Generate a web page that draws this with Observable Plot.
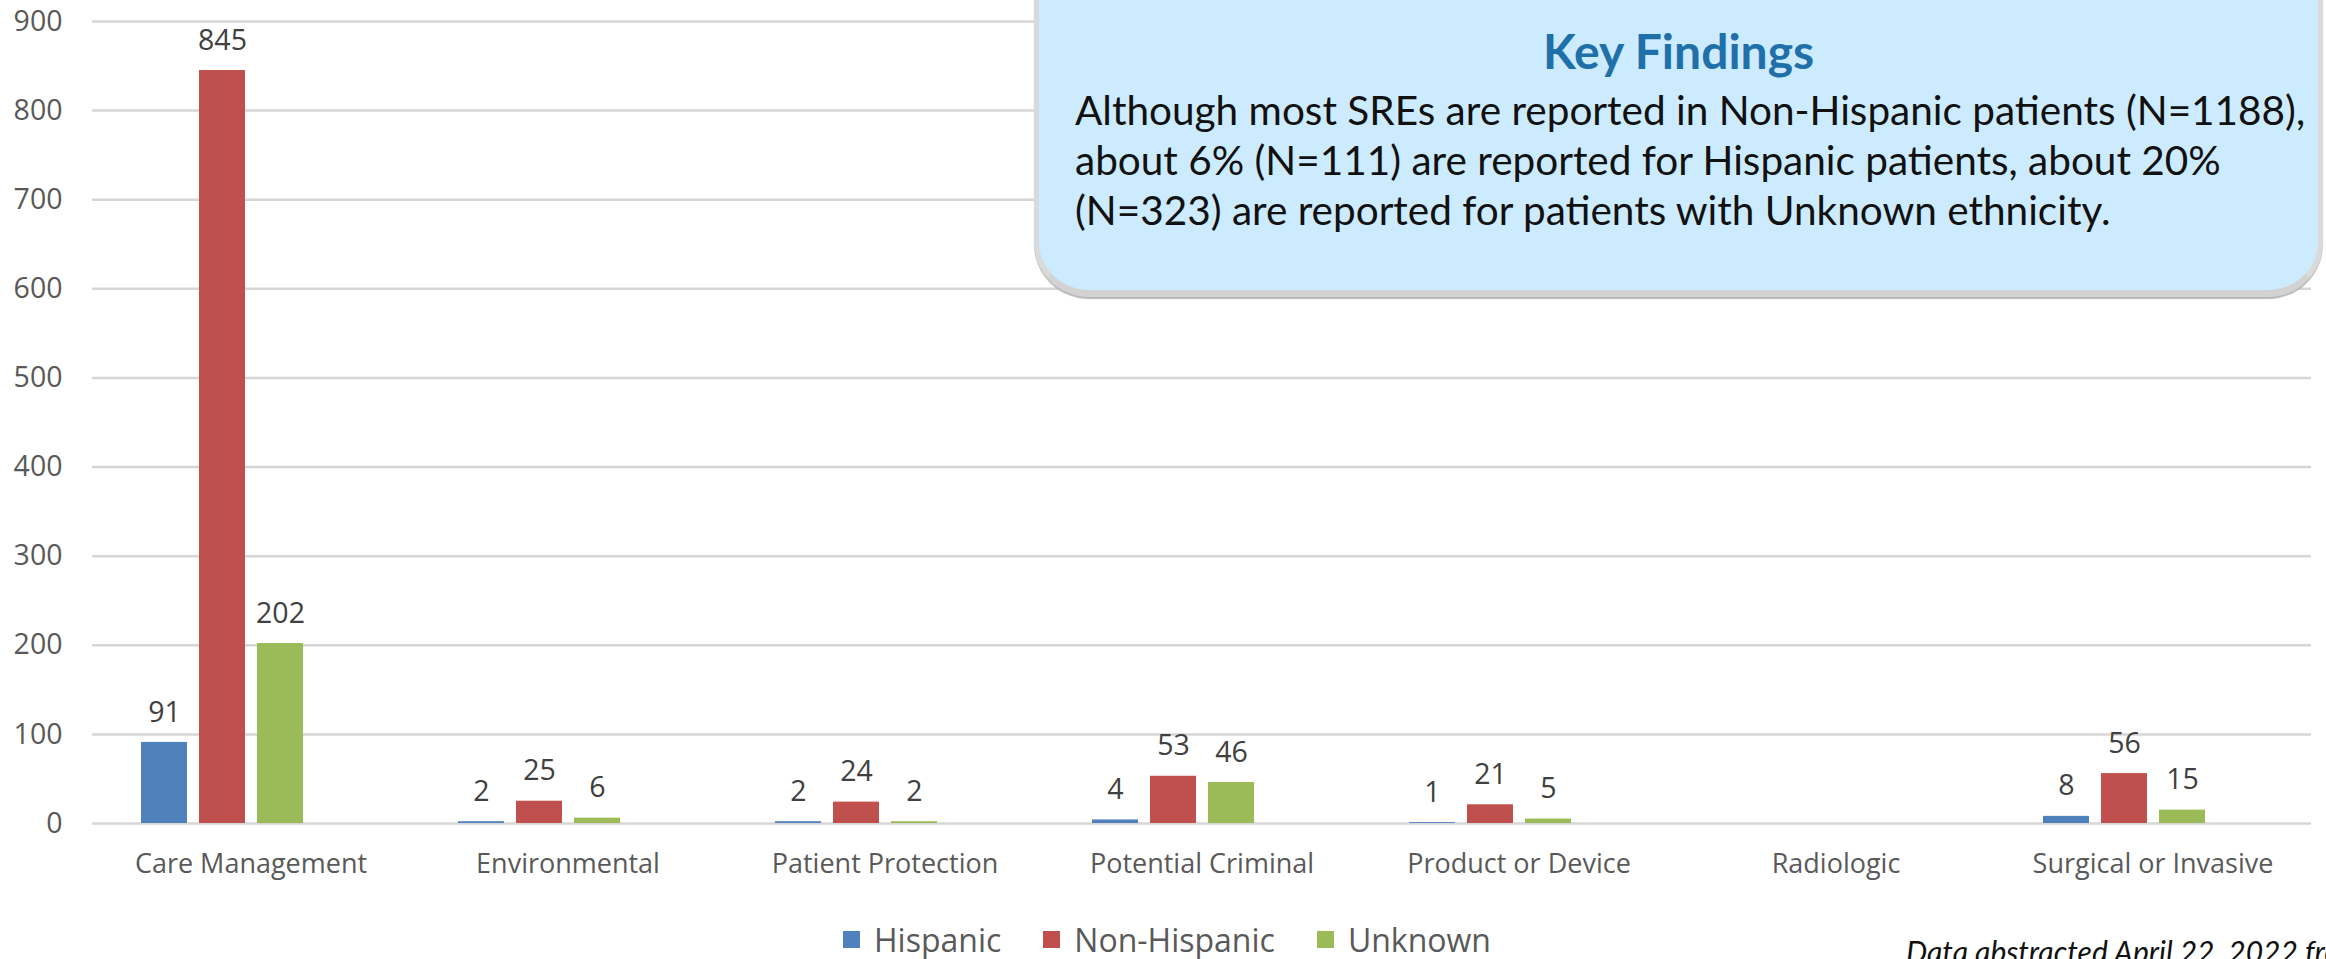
<!DOCTYPE html>
<html>
<head>
<meta charset="utf-8">
<script src="https://cdn.jsdelivr.net/npm/d3@7"></script>
<script src="https://cdn.jsdelivr.net/npm/@observablehq/plot@0.6"></script>
<style>
  html, body { margin: 0; padding: 0; background: #fff; }
  body { width: 2326px; height: 959px; overflow: hidden; position: relative; font-family: "Open Sans", sans-serif; }
  #chart { position: absolute; left: 0; top: 0; }
  #box {
    position: absolute; left: 1034px; top: -60px; width: 1289px; height: 357px;
    box-sizing: border-box; background: #cdebff;
    border: 5px solid #dadada; border-bottom: 7px solid #d2d2d2; border-radius: 55px;
    box-shadow: 0 2px 1px #b8b8b8;
  }
  #box .title { position: absolute; left: 0; right: 0; top: 76px; line-height: 60px; text-align: center;
    font-family: Lato, sans-serif; font-weight: bold; font-size: 48px; color: #1f6fa8; }
  #box .body { position: absolute; left: 36px; top: 140px; width: 1245px; line-height: 50px;
    font-family: Lato, sans-serif; font-size: 40.5px; color: #111; white-space: nowrap; }
  #legend { position: absolute; left: 843px; top: 919px; height: 40px; display: flex; align-items: center;
    font-size: 32px; color: #595959; }
  #legend .item { display: flex; align-items: center; margin-right: 42px; }
  #legend .sw { width: 17px; height: 17px; margin-right: 14px; }
  #caption { position: absolute; left: 1906px; top: 934px; font-family: Lato, sans-serif; font-style: italic;
    font-size: 30px; line-height: 34px; color: #111; white-space: nowrap; }
</style>
</head>
<body>
<div id="chart"></div>
<div id="box">
  <div class="title">Key Findings</div>
  <div class="body">Although most SREs are reported in Non-Hispanic patients (N=1188),<br>about 6% (N=111) are reported for Hispanic patients, about 20%<br>(N=323) are reported for patients with Unknown ethnicity.</div>
</div>
<div id="legend"></div>
<div id="caption">Data abstracted April 22, 2022 from</div>
<script>
const categories = ["Care Management", "Environmental", "Patient Protection", "Potential Criminal", "Product or Device", "Radiologic", "Surgical or Invasive"];
const series = ["Hispanic", "Non-Hispanic", "Unknown"];
const hispanic    = [91, 2, 2, 4, 1, null, 8];
const nonHispanic = [845, 25, 24, 53, 21, null, 56];
const unknown     = [202, 6, 2, 46, 5, null, 15];
const yTicks = [0, 100, 200, 300, 400, 500, 600, 700, 800, 900];
const colors = ["#4f81bd", "#c0504d", "#9bbb59"];

const seriesValues = [hispanic, nonHispanic, unknown];
const rows = [];
categories.forEach((c, i) => {
  series.forEach((s, j) => {
    rows.push({category: c, series: s, value: seriesValues[j][i]});
  });
});

const chart = Plot.plot({
  width: 2326,
  height: 900,
  marginTop: 21,
  marginBottom: 77,
  marginLeft: 92,
  marginRight: 15,
  style: {fontFamily: "'Open Sans', sans-serif", background: "transparent", overflow: "visible"},
  facet: {data: rows, x: "category"},
  fx: {domain: categories, padding: 0, label: null},
  x: {domain: [...series, "(empty)"], paddingInner: 0.207, paddingOuter: 0.836, axis: null},
  y: {domain: [0, 900], label: null},
  color: {domain: series, range: colors},
  marks: [
    Plot.gridY(yTicks, {stroke: "#d6d6d6", strokeWidth: 2.5, strokeOpacity: 1}),
    Plot.axisY(yTicks, {tickSize: 0, tickPadding: 30, fontSize: 28.5, color: "#595959", label: null}),
    Plot.axisFx({anchor: "bottom", tickSize: 0, tickPadding: 30, fontSize: 27, color: "#595959", label: null}),
    Plot.barY(rows, {fx: "category", x: "series", y: "value", fill: "series"}),
    Plot.text(rows, {fx: "category", x: "series", y: "value", text: d => d.value == null ? null : String(d.value), dy: -30, fontSize: 28.5, fill: "#404040"})
  ]
});
document.getElementById("chart").appendChild(chart);

const legend = document.getElementById("legend");
series.forEach((s, i) => {
  const item = document.createElement("div");
  item.className = "item";
  const sw = document.createElement("div");
  sw.className = "sw";
  sw.style.background = colors[i];
  const label = document.createElement("span");
  label.textContent = s;
  item.appendChild(sw);
  item.appendChild(label);
  legend.appendChild(item);
});
</script>
</body>
</html>
